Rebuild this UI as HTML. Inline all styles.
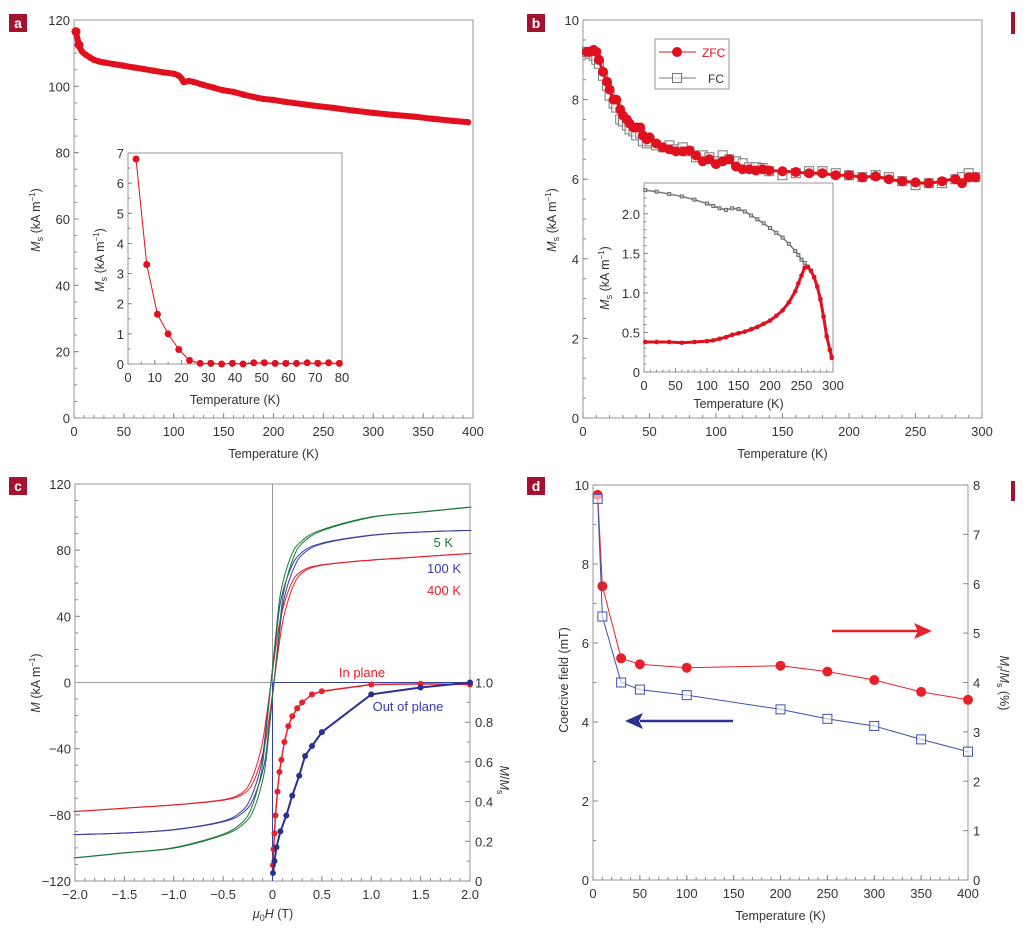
<!DOCTYPE html>
<html><head><meta charset="utf-8">
<style>
body{margin:0;background:#fff;}
svg{display:block;font-family:"Liberation Sans",sans-serif;}
.tk{font-size:13px;fill:#333;}
.tt{font-size:12.5px;fill:#333;}
</style></head>
<body>
<svg id="fig" width="1024" height="935" viewBox="0 0 1024 935" xmlns="http://www.w3.org/2000/svg"></svg>
<script>
// ---------- Panel a data ----------
const aT = [2,5,8,12,16,20,25,30,40,50,60,70,80,90,100,105,108,110,115,120,130,140,150,160,170,180,190,200,210,220,240,260,280,300,320,340,360,380,395];
const aMs = [116.5,112.5,110.5,109.5,108.7,108,107.5,107.2,106.7,106.2,105.7,105.2,104.7,104.2,103.8,103.2,102.3,101.3,101.6,101.3,100.4,99.6,98.8,98.3,97.5,96.8,96.2,95.9,95.4,95.0,94.2,93.5,92.7,92.0,91.4,90.9,90.2,89.6,89.2];
const aInT = [3,7,11,15,19,23,27,31,35,39,43,47,51,55,59,63,67,71,75,79];
const aInMs = [6.8,3.3,1.65,1.0,0.48,0.12,0.02,0.02,0.0,0.02,0.0,0.04,0.04,0.02,0.02,0.02,0.04,0.02,0.04,0.02];
const aXTicks = [0,50,100,150,200,250,300,350,400];
const aYTicks = [0,20,40,60,80,100,120];
const aInXTicks = [0,10,20,30,40,50,60,70,80];
const aInYTicks = [0,1,2,3,4,5,6,7];
// ---------- Panel b data ----------
const bT = [3,5,8,10,12,15,18,20,23,25,28,30,33,35,38,40,43,45,48,50,55,60,65,70,75,80,85,90,95,100,105,110,115,120,125,130,135,140,150,160,170,180,190,200,210,220,230,240,250,260,270,280,285,290,295];
const bZFC = [9.2,9.2,9.25,9.2,9.0,8.7,8.45,8.25,8.0,8.0,7.75,7.6,7.5,7.4,7.3,7.3,7.3,7.1,7.0,7.05,6.9,6.8,6.75,6.7,6.7,6.72,6.6,6.45,6.5,6.38,6.45,6.5,6.32,6.25,6.25,6.22,6.25,6.22,6.2,6.18,6.15,6.15,6.1,6.1,6.05,6.07,6.0,5.95,5.92,5.9,5.95,6.0,5.9,6.05,6.05];
const bFC = [9.2,9.15,9.1,9.0,8.9,8.6,8.35,8.1,7.9,7.8,7.5,7.45,7.35,7.25,7.2,7.1,7.15,6.95,6.9,6.95,6.85,6.8,6.85,6.75,6.8,6.7,6.55,6.6,6.55,6.45,6.6,6.5,6.45,6.4,6.3,6.3,6.28,6.2,6.1,6.15,6.2,6.2,6.15,6.1,6.05,6.1,6.05,5.95,5.85,5.9,5.9,6.0,6.05,6.15,6.05];
const bInT = [2,20,40,60,80,100,110,120,130,140,150,160,170,180,190,200,210,220,230,240,245,250,255,260,265,270,275,280,285,290,295,298];
const bInFC = [2.3,2.28,2.25,2.22,2.18,2.13,2.1,2.07,2.05,2.07,2.06,2.03,1.98,1.93,1.88,1.82,1.76,1.7,1.62,1.53,1.48,1.42,1.38,1.33,1.28,1.2,1.08,0.92,0.7,0.45,0.28,0.18];
const bInZFC = [0.38,0.38,0.38,0.37,0.38,0.39,0.40,0.42,0.44,0.47,0.49,0.51,0.54,0.57,0.61,0.65,0.71,0.78,0.88,1.02,1.12,1.22,1.32,1.33,1.28,1.2,1.08,0.92,0.7,0.45,0.28,0.18];
const bXTicks = [0,50,100,150,200,250,300];
const bYTicks = [0,2,4,6,8,10];
const bInXTicks = [0,50,100,150,200,250,300];
const bInYTicks = [0,0.5,1.0,1.5,2.0];
// ---------- Panel c data ----------
const cH = [-2,-1.5,-1,-0.5,-0.3,-0.2,-0.1,-0.05,0,0.05,0.1,0.2,0.3,0.5,1,1.5,2];
const c5K = [-106,-103,-100,-92,-85,-76,-55,-30,0,30,55,76,85,92,100,103,106];
const c100K = [-92,-91,-89,-84,-78,-69,-50,-27,0,27,50,69,78,84,89,91,92];
const c400K = [-78,-76,-74,-71,-67,-59,-40,-22,0,22,40,59,67,71,74,76,78];
const cInH = [0.005,0.01,0.02,0.03,0.05,0.07,0.09,0.12,0.16,0.2,0.25,0.3,0.4,0.5,1.0,1.5,2.0];
const cInRatio = [0.08,0.16,0.24,0.33,0.45,0.55,0.61,0.7,0.78,0.83,0.87,0.9,0.94,0.956,0.99,0.993,0.99];
const cOutH = [0.005,0.02,0.04,0.08,0.14,0.2,0.27,0.33,0.4,0.5,1.0,1.5,2.0];
const cOutRatio = [0.04,0.1,0.17,0.25,0.33,0.43,0.53,0.63,0.68,0.75,0.94,0.975,1.0];
const cXTicks = [-2.0,-1.5,-1.0,-0.5,0,0.5,1.0,1.5,2.0];
const cXLabels = ["\u22122.0","\u22121.5","\u22121.0","\u22120.5","0","0.5","1.0","1.5","2.0"];
const cYTicks = [-120,-80,-40,0,40,80,120];
const cYLabels = ["\u2212120","\u221280","\u221240","0","40","80","120"];
const cRTicks = [0,0.2,0.4,0.6,0.8,1.0];
// ---------- Panel d data ----------
const dT = [5,10,30,50,100,200,250,300,350,400];
const dHc = [9.65,6.67,5.0,4.82,4.68,4.32,4.08,3.9,3.56,3.25];
const dRem = [7.8,5.95,4.49,4.37,4.3,4.34,4.22,4.05,3.81,3.65];
const dXTicks = [0,50,100,150,200,250,300,350,400];
const dYTicks = [0,2,4,6,8,10];
const dRTicks = [0,1,2,3,4,5,6,7,8];

const NS="http://www.w3.org/2000/svg";
const svg=document.getElementById('fig');
function el(tag,attrs,parent){const e=document.createElementNS(NS,tag);for(const k in attrs)e.setAttribute(k,attrs[k]);(parent||svg).appendChild(e);return e;}
function lin(d0,d1,p0,p1){return v=>p0+(v-d0)*(p1-p0)/(d1-d0);}
function txt(x,y,s,cls,anchor,parent,name){const t=el('text',{x:x,y:y,class:cls,'text-anchor':anchor||'middle'},parent);t.textContent=s;


return t;}
function smooth(pts){let d='M'+pts[0][0]+','+pts[0][1];for(let i=0;i<pts.length-1;i++){const p0=pts[i-1]||pts[i],p1=pts[i],p2=pts[i+1],p3=pts[i+2]||p2;
d+=' C'+(p1[0]+(p2[0]-p0[0])/6)+','+(p1[1]+(p2[1]-p0[1])/6)+' '+(p2[0]-(p3[0]-p1[0])/6)+','+(p2[1]-(p3[1]-p1[1])/6)+' '+p2[0]+','+p2[1];}return d;}
function frame(g,x0,y0,x1,y1,name){const r=el('rect',{x:x0,y:y0,width:x1-x0,height:y1-y0,fill:'none',stroke:'#999','stroke-width':1},g);

}
function xTicks(g,sx,ticks,labels,ybot,minorStep,dmin,dmax,len){
  len=len||5;
  for(let v=dmin;v<=dmax+1e-9;v+=minorStep){el('line',{x1:sx(v),x2:sx(v),y1:ybot,y2:ybot-len*0.6,stroke:'#888'},g);}
  ticks.forEach((v,i)=>{el('line',{x1:sx(v),x2:sx(v),y1:ybot,y2:ybot-len,stroke:'#888'},g);
    txt(sx(v),ybot+18,labels?labels[i]:String(v),'tk','middle',g,'x-tick-label');});
}
function yTicks(g,sy,ticks,labels,xl,minorStep,dmin,dmax,len){
  len=len||5;
  for(let v=dmin;v<=dmax+1e-9;v+=minorStep){el('line',{x1:xl,x2:xl+len*0.6,y1:sy(v),y2:sy(v),stroke:'#888'},g);}
  ticks.forEach((v,i)=>{el('line',{x1:xl,x2:xl+len,y1:sy(v),y2:sy(v),stroke:'#888'},g);
    txt(xl-4,sy(v)+5,labels?labels[i]:String(v),'tk','end',g,'y-tick-label');});
}
function dot(g,x,y,r,fill,name){const c=el('circle',{cx:x,cy:y,r:r,fill:fill},g);

}
function sq(g,x,y,s,stroke,name){const c=el('rect',{x:x-s/2,y:y-s/2,width:s,height:s,fill:'#fff','fill-opacity':0.6,stroke:stroke,'stroke-width':1},g);

}
function badge(x,y,ch,name){const g=el('g',{});
el('rect',{x:x,y:y,width:18,height:18,fill:'#a3122e'},g);
const t=el('text',{x:x+9,y:y+14,'text-anchor':'middle','font-size':14,'font-weight':'bold',fill:'#fff'},g);t.textContent=ch;}
function msTitle(g,x,y,sub,rot,name){const t=el('text',{transform:'translate('+x+','+y+') rotate('+rot+')','text-anchor':'middle',class:'tt'},g);

t.innerHTML='<tspan font-style="italic">M</tspan>'+(sub?'<tspan font-size="9" dy="3">'+sub+'</tspan><tspan dy="-3"> </tspan>':' ')+'(kA m<tspan font-size="8" dy="-5">\u22121</tspan><tspan dy="5">)</tspan>';}
function ptsOf(xs,ys,sx,sy){return xs.map((v,i)=>[sx(v),sy(ys[i])]);}

// ================= Panel a =================
(function(){
const g=el('g',{});
badge(9,14,'a','panel-a-badge');
const X0=74,X1=473,Y0=20,Y1=418;
const sx=lin(0,400,X0,X1), sy=lin(0,120,Y1,Y0);
frame(g,X0,Y0,X1,Y1,'panel-a-frame');
xTicks(g,sx,aXTicks,null,Y1,10,0,400);
yTicks(g,sy,aYTicks,null,X0,5,0,120);
txt((X0+X1)/2,458,'Temperature (K)','tt','middle',g,'x-axis-title');
msTitle(g,40,220,'s',-90,'y-axis-title');
el('path',{d:smooth(ptsOf(aT,aMs,sx,sy)),fill:'none',stroke:'#e0101e','stroke-width':6},g);
aT.forEach((t,i)=>dot(g,sx(t),sy(aMs[i]),i<2?4.5:3.2,'#e0101e','ms-point'));
// inset
const IX0=128,IX1=342,IY0=153,IY1=364;
const ix=lin(0,80,IX0,IX1), iy=lin(0,7,IY1,IY0);
el('rect',{x:IX0,y:IY0,width:IX1-IX0,height:IY1-IY0,fill:'#fff'},g);
frame(g,IX0,IY0,IX1,IY1,'inset-a-frame');
xTicks(g,ix,aInXTicks,null,IY1,5,0,80,4);
yTicks(g,iy,aInYTicks,null,IX0,0.5,0,7,4);
txt((IX0+IX1)/2,404,'Temperature (K)','tt','middle',g,'inset-x-axis-title');
msTitle(g,104,260,'s',-90,'inset-y-axis-title');
el('polyline',{points:ptsOf(aInT,aInMs,ix,iy).map(p=>p.join(',')).join(' '),fill:'none',stroke:'#e0101e','stroke-width':1},g);
aInT.forEach((t,i)=>dot(g,ix(t),iy(aInMs[i]),3.5,'#e0101e','inset-point'));
})();

// ================= Panel b =================
(function(){
const g=el('g',{});
badge(527,14,'b','panel-b-badge');
el('rect',{x:1011,y:12,width:4,height:22,fill:'#a3122e'});
const X0=583,X1=982,Y0=20,Y1=418;
const sx=lin(0,300,X0,X1), sy=lin(0,10,Y1,Y0);
frame(g,X0,Y0,X1,Y1,'panel-b-frame');
xTicks(g,sx,bXTicks,null,Y1,10,0,300);
yTicks(g,sy,bYTicks,null,X0,0.5,0,10);
txt((X0+X1)/2,458,'Temperature (K)','tt','middle',g,'x-axis-title');
msTitle(g,556,220,'s',-90,'y-axis-title');
bT.forEach((t,i)=>sq(g,sx(t),sy(bFC[i]),9,'#777','fc-point'));
el('path',{d:smooth(ptsOf(bT,bZFC,sx,sy)),fill:'none',stroke:'#e0101e','stroke-width':3},g);
bT.forEach((t,i)=>dot(g,sx(t),sy(bZFC[i]),5,'#e0101e','zfc-point'));
// legend
const lg=el('g',{},g);
el('rect',{x:655,y:39,width:74,height:50,fill:'#fff',stroke:'#999'},lg);
el('line',{x1:659,x2:696,y1:52,y2:52,stroke:'#e0101e'},lg);dot(lg,677,52,5,'#e0101e','legend-zfc-marker');
txt(702,57,'ZFC','tk','start',lg,'legend-zfc-label').setAttribute('fill','#e0101e');
lg.lastChild.style.fill='#e0101e';lg.lastChild.style.fontSize='12px';
el('line',{x1:659,x2:696,y1:78,y2:78,stroke:'#777'},lg);sq(lg,677,78,9,'#777','legend-fc-marker');
const fc=txt(708,83,'FC','tk','start',lg,'legend-fc-label');fc.style.fontSize='12px';
// inset
const IX0=644,IX1=833,IY0=183,IY1=372;
const ix=lin(0,300,IX0,IX1), iy=lin(0,2.39,IY1,IY0);
el('rect',{x:IX0,y:IY0,width:IX1-IX0,height:IY1-IY0,fill:'#fff'},g);
frame(g,IX0,IY0,IX1,IY1,'inset-b-frame');
xTicks(g,ix,bInXTicks,null,IY1,10,0,300,4);
yTicks(g,iy,bInYTicks,['0','0.5','1.0','1.5','2.0'],IX0,0.1,0,2.3,4);
txt((IX0+IX1)/2,408,'Temperature (K)','tt','middle',g,'inset-x-axis-title');
msTitle(g,609,278,'s',-90,'inset-y-axis-title');
el('polyline',{points:ptsOf(bInT,bInFC,ix,iy).map(p=>p.join(',')).join(' '),fill:'none',stroke:'#777','stroke-width':1.5},g);
bInT.forEach((t,i)=>sq(g,ix(t),iy(bInFC[i]),3,'#666','inset-fc-point'));
el('polyline',{points:ptsOf(bInT,bInZFC,ix,iy).map(p=>p.join(',')).join(' '),fill:'none',stroke:'#e0101e','stroke-width':3},g);
bInT.forEach((t,i)=>dot(g,ix(t),iy(bInZFC[i]),2.3,'#e0101e','inset-zfc-point'));
})();

// ================= Panel c =================
(function(){
const g=el('g',{});
badge(9,477,'c','panel-c-badge');
const X0=75,X1=470,Y0=484,Y1=881;
const sx=lin(-2,2,X0,X1), sy=lin(-120,120,Y1,Y0), sr=lin(0,1,Y1,sy(0));
frame(g,X0,Y0,X1,Y1,'panel-c-frame');
xTicks(g,sx,cXTicks,cXLabels,Y1,0.1,-2,2);
yTicks(g,sy,cYTicks,cYLabels,X0,10,-120,120);
cRTicks.forEach(v=>{el('line',{x1:X1,x2:X1-5,y1:sr(v),y2:sr(v),stroke:'#888'},g);
  txt(X1+5,sr(v)+5,v===0?'0':v.toFixed(1),'tk','start',g,'right-tick-label');});
for(let v=0.1;v<1;v+=0.2){el('line',{x1:X1,x2:X1-3,y1:sr(v),y2:sr(v),stroke:'#888'},g);}
const xt=el('text',{x:273,y:918,'text-anchor':'middle',class:'tt'},g);

xt.innerHTML='<tspan font-style="italic">\u03bc</tspan><tspan font-size="9" dy="3">0</tspan><tspan dy="-3" font-style="italic">H</tspan> (T)';
const yt=el('text',{transform:'translate(40,683) rotate(-90)','text-anchor':'middle',class:'tt'},g);

yt.innerHTML='<tspan font-style="italic">M</tspan> (kA m<tspan font-size="8" dy="-5">\u22121</tspan><tspan dy="5">)</tspan>';
const rt=el('text',{transform:'translate(500,780) rotate(90)','text-anchor':'middle',class:'tt'},g);

rt.innerHTML='<tspan font-style="italic">M</tspan>/<tspan font-style="italic">M</tspan><tspan font-size="9" dy="3">s</tspan>';
el('line',{x1:X0,x2:X1,y1:sy(0),y2:sy(0),stroke:'#999'},g);
el('line',{x1:sx(0),x2:sx(0),y1:Y0,y2:sy(0),stroke:'#999'},g);
el('line',{x1:sx(0),x2:X1,y1:sy(0),y2:sy(0),stroke:'#3040a0'},g);
el('line',{x1:sx(0),x2:sx(0),y1:sy(0),y2:Y1,stroke:'#3040a0'},g);
[[c400K,'#e8202a','curve-400k'],[c100K,'#3a3aa8','curve-100k'],[c5K,'#1f7a3a','curve-5k']].forEach(([arr,col,nm])=>{
  [-0.015,0.015].forEach(off=>{const p=el('path',{d:smooth(cH.map((h,i)=>[sx(h+off),sy(arr[i])])),fill:'none',stroke:col,'stroke-width':1},g);
  });
});
const l1=txt(453,547,'5 K','tk','end',g,'label-5k');l1.style.fill='#1f7a3a';
const l2=txt(461,573,'100 K','tk','end',g,'label-100k');l2.style.fill='#3a3aa8';
const l3=txt(461,571+24,'400 K','tk','end',g,'label-400k');l3.style.fill='#e8202a';
const l4=txt(362,677,'In plane','tk','middle',g,'label-in-plane');l4.style.fill='#e8202a';
const l5=txt(408,711,'Out of plane','tk','middle',g,'label-out-of-plane');l5.style.fill='#3a3aa8';
el('polyline',{points:ptsOf(cInH,cInRatio,sx,sr).map(p=>p.join(',')).join(' '),fill:'none',stroke:'#e8202a','stroke-width':1.5},g);
cInH.forEach((h,i)=>dot(g,sx(h),sr(cInRatio[i]),3,'#e8202a','in-plane-point'));
el('polyline',{points:ptsOf(cOutH,cOutRatio,sx,sr).map(p=>p.join(',')).join(' '),fill:'none',stroke:'#2a3090','stroke-width':2},g);
cOutH.forEach((h,i)=>dot(g,sx(h),sr(cOutRatio[i]),3,'#2a3090','out-of-plane-point'));
})();

// ================= Panel d =================
(function(){
const g=el('g',{});
badge(527,477,'d','panel-d-badge');
el('rect',{x:1011,y:481,width:4,height:20,fill:'#a3122e'});
const X0=593,X1=968,Y0=485,Y1=880;
const sx=lin(0,400,X0,X1), sy=lin(0,10,Y1,Y0), sr=lin(0,8,Y1,Y0);
frame(g,X0,Y0,X1,Y1,'panel-d-frame');
xTicks(g,sx,dXTicks,null,Y1,10,0,400);
yTicks(g,sy,dYTicks,null,X0,1,0,10);
dRTicks.forEach(v=>{el('line',{x1:X1,x2:X1-5,y1:sr(v),y2:sr(v),stroke:'#888'},g);
  txt(X1+5,sr(v)+5,String(v),'tk','start',g,'right-tick-label');});
txt((X0+X1)/2,920,'Temperature (K)','tt','middle',g,'x-axis-title');
const yt=txt(0,0,'Coercive field (mT)','tt','middle',g,'y-axis-title');yt.setAttribute('transform','translate(568,680) rotate(-90)');
yt.setAttribute('x',0);
const rt=el('text',{transform:'translate(1000,683) rotate(90)','text-anchor':'middle',class:'tt'},g);

rt.innerHTML='<tspan font-style="italic">M</tspan><tspan font-size="9" dy="3">r</tspan><tspan dy="-3">/</tspan><tspan font-style="italic">M</tspan><tspan font-size="9" dy="3">s</tspan><tspan dy="-3"> (%)</tspan>';
el('polyline',{points:ptsOf(dT,dRem,sx,sr).map(p=>p.join(',')).join(' '),fill:'none',stroke:'#e8202a','stroke-width':1},g);
dT.forEach((t,i)=>dot(g,sx(t),sr(dRem[i]),5,'#e8202a','remanence-point'));
el('polyline',{points:ptsOf(dT,dHc,sx,sy).map(p=>p.join(',')).join(' '),fill:'none',stroke:'#4050b0','stroke-width':1},g);
dT.forEach((t,i)=>sq(g,sx(t),sy(dHc[i]),9,'#4050b0','coercive-point'));
// arrows
const a1=el('g',{},g);
el('line',{x1:832,x2:918,y1:631,y2:631,stroke:'#e8202a','stroke-width':2.5},a1);
el('polygon',{points:'932,631 914,623 918,631 914,639',fill:'#e8202a'},a1);
const a2=el('g',{},g);
el('line',{x1:733,x2:640,y1:721,y2:721,stroke:'#2a3090','stroke-width':2.5},a2);
el('polygon',{points:'625,721 643,713 639,721 643,729',fill:'#2a3090'},a2);
})();
</script>
</body></html>
